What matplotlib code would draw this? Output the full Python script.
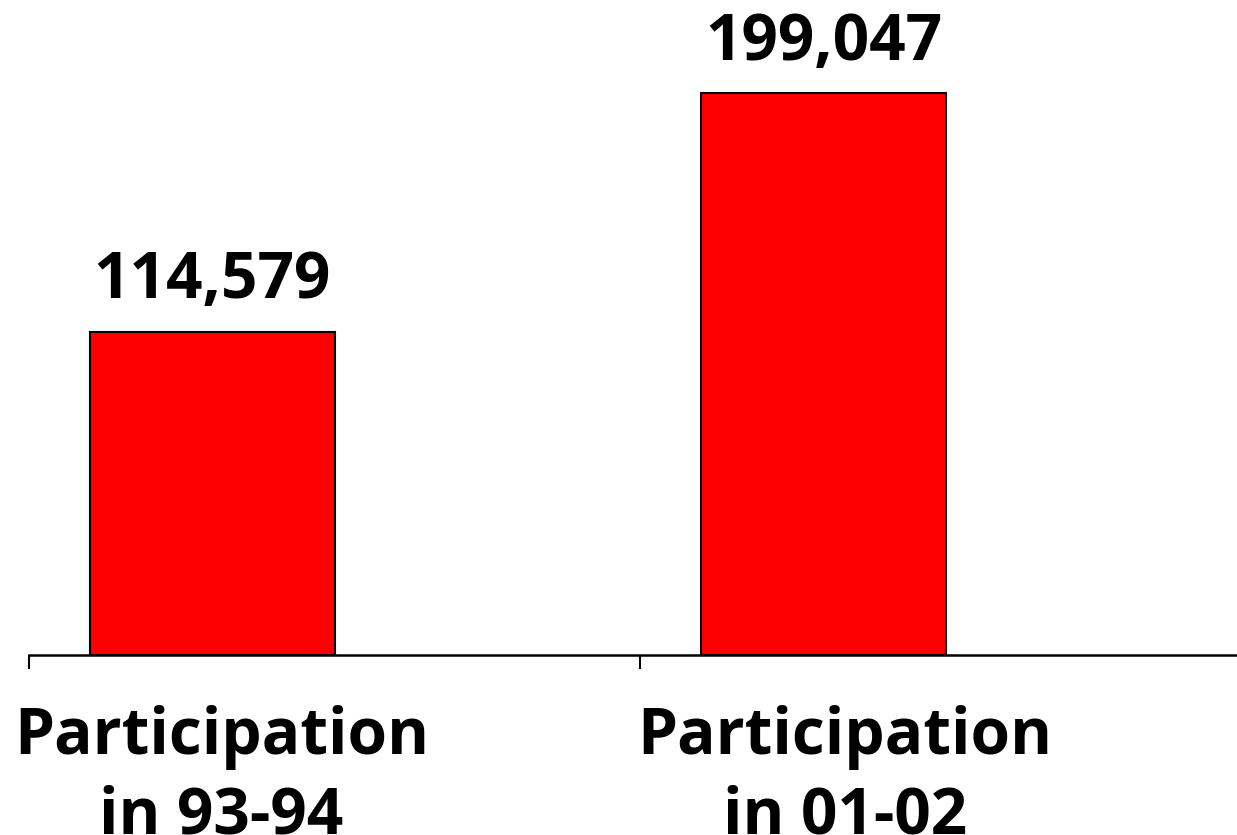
import matplotlib.pyplot as plt

categories = ["Participation\nin 93-94", "Participation\nin 01-02"]
values = [114579, 199047]
value_labels = ["114,579", "199,047"]

plt.rcParams['font.family'] = ['Open Sans', 'DejaVu Sans']

fig = plt.figure(figsize=(12.37, 8.35), dpi=100)
# axes runs a bit past the right edge, like the original slide
ax = fig.add_axes([29 / 1237, 180 / 835, 1222 / 1237, 655 / 835])

pos = list(range(len(values)))
bar_x = [p + 0.1 for p in pos]
ax.bar(bar_x, values, width=0.4, align='edge', color='#ff0000',
       edgecolor='black', linewidth=1.5)

for x, v, lab in zip(bar_x, values, value_labels):
    ax.annotate(lab, (x + 0.2, v), xytext=(0, 24), textcoords='offset points',
                ha='center', va='baseline', fontsize=46, fontweight='bold')

ax.set_xlim(0, 2)
ax.set_ylim(0, 232000)

ax.set_xticks([0, 1, 2])
ax.set_xticklabels([])
# category labels sit a little right of the bar centres
ax.set_xticks([p + 0.315 + 0.02 * p for p in pos], minor=True)
ax.set_xticklabels(categories, minor=True, fontsize=46, fontweight='bold',
                   linespacing=1.3)
ax.tick_params(axis='x', which='major', length=10, width=1.5, direction='out')
ax.tick_params(axis='x', which='minor', length=0, pad=36)

ax.set_yticks([])
for s in ['left', 'right', 'top']:
    ax.spines[s].set_visible(False)
ax.spines['bottom'].set_linewidth(1.8)

fig.savefig('out.png', dpi=100)
